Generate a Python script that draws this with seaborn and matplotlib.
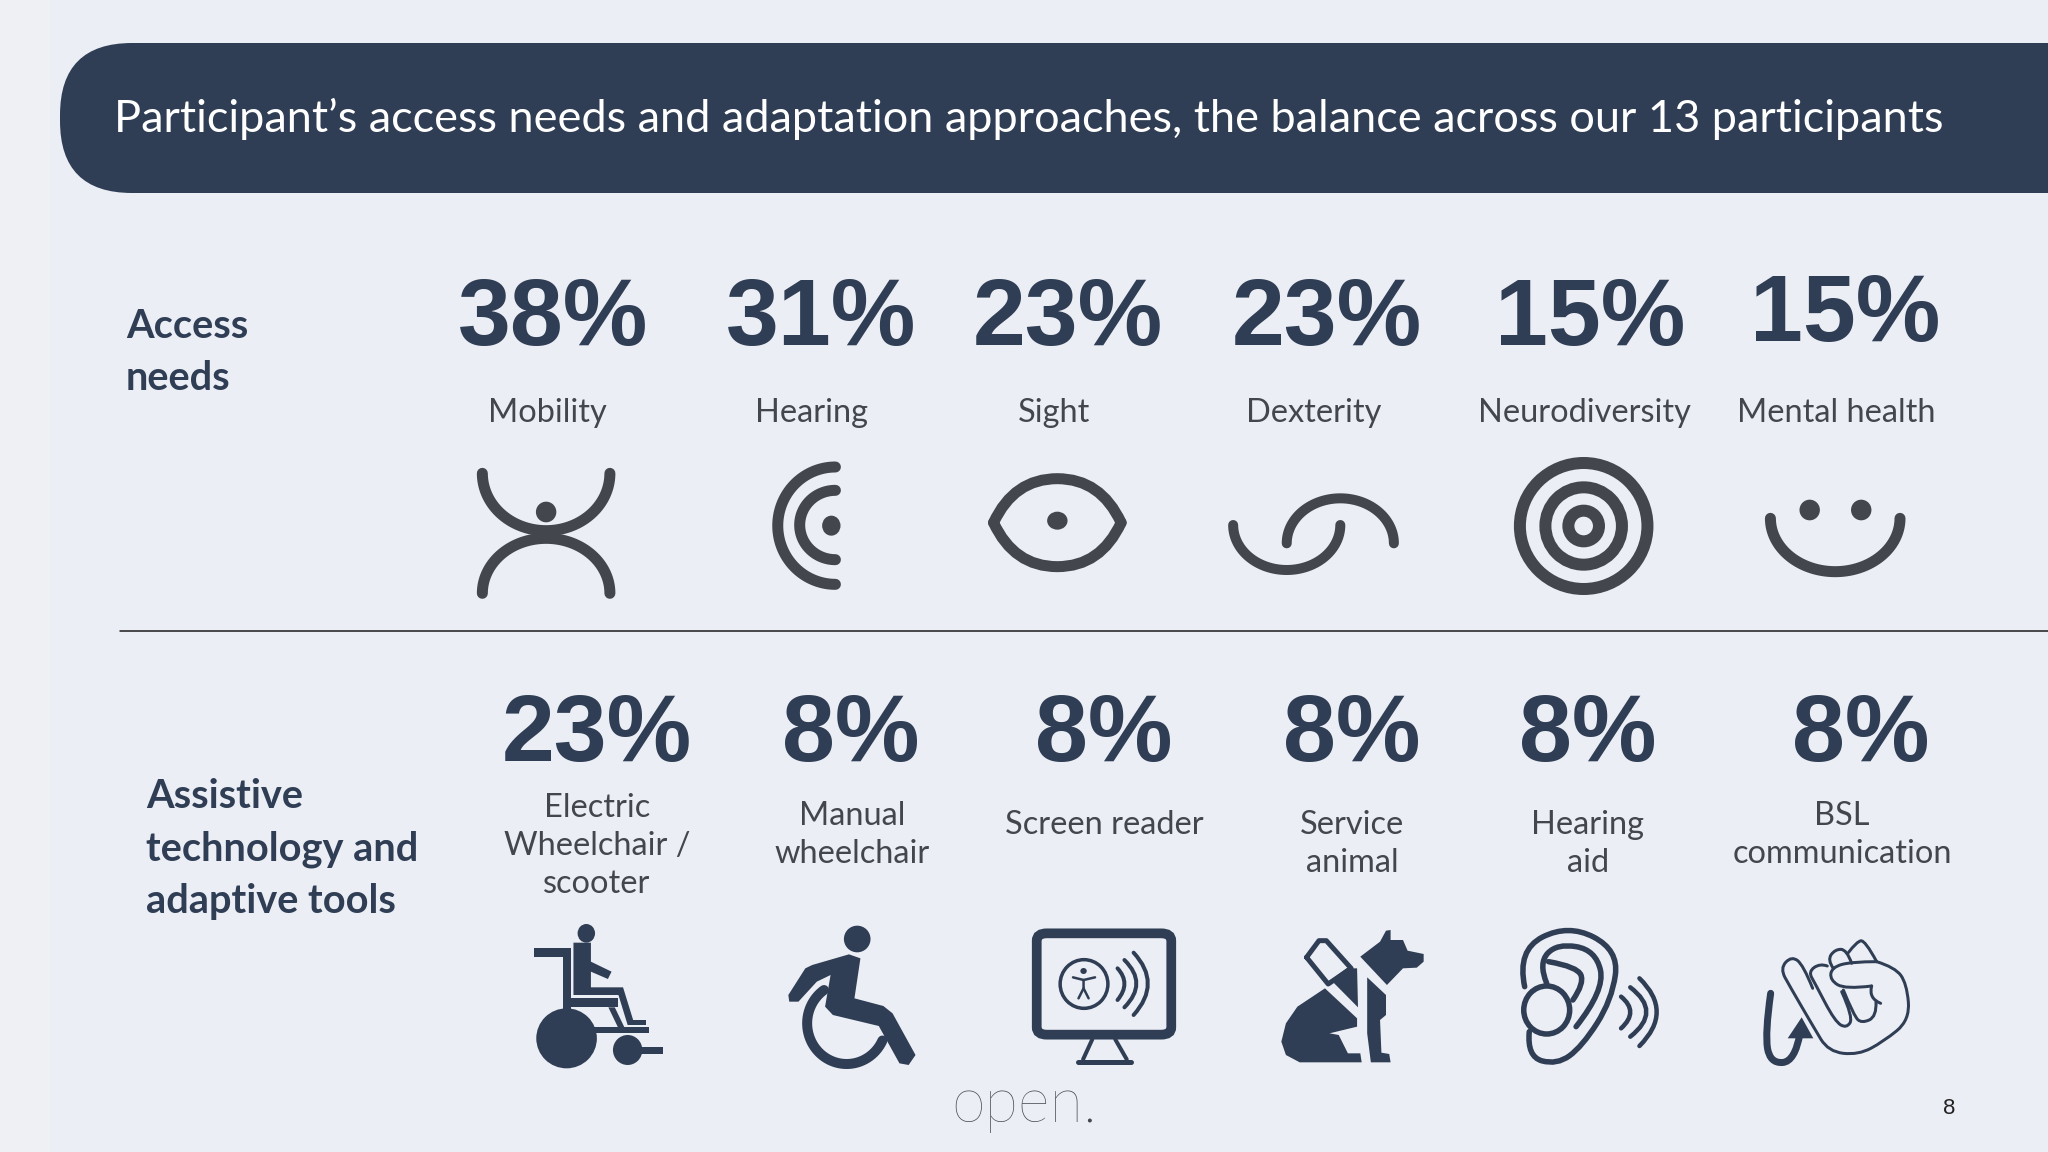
import numpy as np
import matplotlib
matplotlib.use('Agg')
import matplotlib.pyplot as plt
import seaborn as sns
from matplotlib.patches import Ellipse, FancyBboxPatch, PathPatch, Polygon, Rectangle
from matplotlib.path import Path
from matplotlib.transforms import Affine2D

title = "Participant\u2019s access needs and adaptation approaches, the balance across our 13 participants"

need_labels = ['Mobility', 'Hearing', 'Sight', 'Dexterity', 'Neurodiversity', 'Mental health']
need_pcts = [38, 31, 23, 23, 15, 15]
tool_labels = ['Electric\nWheelchair /\nscooter', 'Manual\nwheelchair', 'Screen reader',
               'Service\nanimal', 'Hearing\naid', 'BSL\ncommunication']
tool_pcts = [23, 8, 8, 8, 8, 8]

# layout, in pixels of the 2048x1152 slide
need_pct_x = [553, 821, 1068, 1327, 1590, 1845]
need_pct_y = [321, 321, 321, 321, 321, 316]
need_label_x = [547, 812, 1054, 1314, 1584, 1836]
tool_pct_x = [597, 851, 1104, 1352, 1588, 1861]
tool_label_x = [597, 852, 1104, 1352, 1588, 1842]
tool_label_y = [846, 835, 825, 844, 844, 835]

navy = '#2f3e54'
grey = '#43464d'
bg = '#eceef5'

sns.set_theme(style='white')
plt.rcParams['font.family'] = ['Lato', 'DejaVu Sans']

fig, ax = plt.subplots(figsize=(20.48, 11.52), dpi=100)
fig.subplots_adjust(0, 0, 1, 1)
fig.patch.set_facecolor(bg)
ax.set_facecolor(bg)
ax.set_xlim(0, 2048)
ax.set_ylim(1152, 0)
sns.despine(ax=ax, left=True, bottom=True)
ax.set_xticks([])
ax.set_yticks([])

ax.add_patch(Rectangle((0, 0), 50, 1152, color='#eef0f4', lw=0))
ax.add_patch(FancyBboxPatch((60, 43), 2300, 150, boxstyle='round,pad=0,rounding_size=72', color=navy, lw=0))
ax.text(114, 119, title, color='white', fontsize=32.5, va='center', ha='left')

# panel labels and divider
ax.text(126, 352, 'Access\nneeds', color=navy, fontsize=28.6, fontweight='bold', va='center', linespacing=1.5)
ax.text(146, 849, 'Assistive\ntechnology and\nadaptive tools', color=navy, fontsize=28.6, fontweight='bold', va='center', linespacing=1.5)
ax.plot([120, 2048], [631, 631], color='#1a1a1a', lw=1.1)

for x, y, p in zip(need_pct_x, need_pct_y, need_pcts):
    ax.text(x, y, f'{p}%', color=navy, fontsize=68.5, fontweight='bold', family='Liberation Sans', ha='center', va='center')
for x, p in zip(tool_pct_x, tool_pcts):
    ax.text(x, 737, f'{p}%', color=navy, fontsize=68.5, fontweight='bold', family='Liberation Sans', ha='center', va='center')
for x, lab in zip(need_label_x, need_labels):
    ax.text(x, 413, lab, color=grey, fontsize=23.4, ha='center', va='center')
for x, y, lab in zip(tool_label_x, tool_label_y, tool_labels):
    ax.text(x, y, lab, color=grey, fontsize=23.4, ha='center', va='center', linespacing=1.33)

ax.text(1024, 1105, 'open.', color='#44474f', fontsize=44, fontweight='light', ha='center', va='center')
ax.text(1949, 1109, '8', color='#222222', fontsize=16, family='Liberation Sans', ha='center', va='center')


# icons are drawn in the pixel frame of a stretched crop of the slide
def frame(x0, y0, sx, sy=3.0):
    return Affine2D().scale(1 / sx, 1 / sy).translate(x0, y0) + ax.transData


def arc(tr, cx, cy, rx, ry, t0, t1, lw, color):
    t = np.radians(np.linspace(t0, t1, 80))
    ax.plot(cx + rx * np.cos(t), cy + ry * np.sin(t), transform=tr, color=color, lw=lw * 0.72,
            solid_capstyle='round')


def blob(tr, cx, cy, w, h, color):
    ax.add_patch(Ellipse((cx, cy), w, h, transform=tr, color=color, lw=0))


def ring(tr, cx, cy, rx, ry, lw, color):
    ax.add_patch(Ellipse((cx, cy), 2 * rx, 2 * ry, transform=tr, fill=False, edgecolor=color, lw=lw * 0.72))


def poly(tr, pts, color):
    ax.add_patch(Polygon(pts, closed=True, transform=tr, color=color, lw=0))


def line(tr, pts, lw, color, closed=False):
    pts = np.array(pts)
    if closed:
        pts = np.vstack([pts, pts[:1]])
    ax.plot(pts[:, 0], pts[:, 1], transform=tr, color=color, lw=lw * 0.72,
            solid_capstyle='round', solid_joinstyle='round')


def curve(tr, pts, lw, color):
    # chained quadratics through the midpoints of the guide points
    pts = np.array(pts, float)
    mids = (pts[1:-2] + pts[2:-1]) / 2
    verts = [pts[0]]
    codes = [Path.MOVETO]
    for c, m in zip(pts[1:-2], mids):
        verts += [c, m]
        codes += [Path.CURVE3, Path.CURVE3]
    verts += [pts[-2], pts[-1]]
    codes += [Path.CURVE3, Path.CURVE3]
    ax.add_patch(PathPatch(Path(verts, codes), transform=tr, fill=False, edgecolor=color,
                           lw=lw * 0.72, capstyle='round'))


top_left = frame(440, 430, 1.96)
top_right = frame(1200, 430, 1.96)
low_left = frame(500, 900, 2.178)
low_right = frame(1240, 900, 2.178)
hand = frame(1750, 930, 3.0)

# mobility
arc(top_left, 208, 130, 125, 172, 0, 180, 11, grey)
arc(top_left, 208, 490, 125, 165, 180, 360, 11, grey)
blob(top_left, 208, 246, 40, 62, grey)
# hearing
arc(top_left, 775, 287, 113, 176, 90, 270, 11, grey)
arc(top_left, 775, 285, 70, 104, 90, 270, 11, grey)
blob(top_left, 767, 287, 36, 60, grey)
# sight
curve(top_left, [(1085, 278), (1125, 146), (1295, 146), (1335, 278)], 11, grey)
curve(top_left, [(1085, 278), (1125, 410), (1295, 410), (1335, 278)], 11, grey)
blob(top_left, 1210, 272, 40, 54, grey)
# dexterity
arc(top_right, 170, 285, 105, 135, 0, 180, 10, grey)
arc(top_right, 275, 340, 105, 135, 180, 360, 10, grey)
# neurodiversity
ring(top_right, 752, 288, 125, 189, 12, grey)
ring(top_right, 752, 288, 75, 116, 12, grey)
ring(top_right, 752, 288, 30, 46, 12, grey)
# mental health
blob(top_right, 1195, 240, 40, 62, grey)
blob(top_right, 1296, 240, 40, 62, grey)
arc(top_right, 1245, 265, 127, 160, 0, 180, 11, grey)

# electric wheelchair
blob(low_left, 188, 100, 38, 56, navy)
poly(low_left, [(160, 128), (198, 128), (198, 185), (243, 215), (235, 237), (198, 215), (198, 262), (268, 262),
                (290, 360), (318, 360), (318, 375), (278, 375), (258, 285), (160, 285)], navy)
poly(low_left, [(73, 143), (155, 143), (155, 330), (137, 330), (137, 170), (73, 170)], navy)
poly(low_left, [(155, 295), (258, 295), (258, 322), (155, 322)], navy)
blob(low_left, 145, 415, 132, 180, navy)
poly(low_left, [(200, 382), (325, 382), (325, 400), (200, 400)], navy)
poly(low_left, [(236, 322), (250, 322), (272, 385), (258, 385)], navy)
blob(low_left, 278, 450, 64, 90, navy)
poly(low_left, [(300, 442), (355, 442), (355, 463), (300, 463)], navy)
# manual wheelchair
blob(low_left, 778, 117, 58, 80, navy)
poly(low_left, [(680, 195), (760, 163), (785, 175), (772, 295), (835, 318), (855, 340), (905, 465), (890, 495),
                (870, 490), (825, 378), (725, 345), (708, 320), (720, 225), (690, 245), (650, 305), (630, 305),
                (628, 285), (665, 205)], navy)
arc(low_left, 755, 370, 86, 122, 235, 25, 10, navy)
# screen reader
ax.add_patch(FancyBboxPatch((1169, 100), 293, 304, boxstyle='round,pad=0,rounding_size=22', transform=low_left,
                            fill=False, edgecolor=navy, lw=7))
line(low_left, [(1290, 418), (1270, 478)], 4, navy)
line(low_left, [(1340, 418), (1365, 478)], 4, navy)
line(low_left, [(1258, 486), (1375, 486)], 5, navy)
ring(low_left, 1272, 252, 52, 73, 3.5, navy)
blob(low_left, 1271, 213, 14, 18, navy)
line(low_left, [(1248, 232), (1271, 240), (1296, 232)], 2.5, navy)
line(low_left, [(1271, 240), (1271, 265), (1260, 295)], 2.5, navy)
line(low_left, [(1271, 265), (1282, 295)], 2.5, navy)
curve(low_left, [(1345, 205), (1375, 250), (1345, 300)], 4, navy)
curve(low_left, [(1360, 180), (1412, 250), (1360, 322)], 4, navy)
curve(low_left, [(1380, 158), (1442, 250), (1380, 345)], 4, navy)
# service animal
poly(low_right, [(262, 170), (305, 125), (318, 92), (328, 90), (328, 120), (355, 120), (365, 152), (400, 162),
                 (400, 185), (385, 203), (355, 205), (320, 255)], navy)
line(low_right, [(145, 172), (172, 122), (188, 122), (242, 205), (192, 252)], 5, navy, closed=True)
poly(low_right, [(198, 240), (232, 205), (255, 205), (257, 322)], navy)
poly(low_right, [(185, 265), (255, 355), (255, 380), (195, 400), (215, 405), (235, 460), (262, 460), (265, 487),
                 (130, 487), (100, 465), (90, 425), (100, 370), (125, 320)], navy)
poly(low_right, [(277, 232), (318, 285), (318, 345), (305, 360), (308, 458), (325, 462), (328, 487), (285, 487),
                 (277, 400)], navy)
# hearing aid
curve(low_right, [(620, 260), (603, 150), (715, 72), (825, 150), (810, 300), (745, 440), (690, 495), (625, 470),
                  (630, 395)], 5.5, navy)
curve(low_right, [(732, 380), (795, 270), (775, 150), (690, 130), (650, 190), (668, 250)], 5.5, navy)
curve(low_right, [(672, 185), (735, 200), (750, 250), (725, 300)], 5.5, navy)
ring(low_right, 668, 330, 50, 72, 5.5, navy)
curve(low_right, [(830, 290), (870, 335), (830, 385)], 4.5, navy)
curve(low_right, [(850, 262), (920, 335), (850, 410)], 4.5, navy)
curve(low_right, [(870, 235), (945, 335), (870, 438)], 4.5, navy)
# bsl communication
curve(hand, [(62, 190), (45, 310), (60, 400), (135, 395), (150, 310)], 7, navy)
poly(hand, [(155, 262), (190, 325), (113, 325)], navy)
curve(hand, [(188, 175), (160, 105), (125, 78), (90, 115), (120, 170), (190, 290), (235, 365), (325, 375),
             (400, 335), (480, 270), (470, 160), (435, 112), (380, 95)], 3, navy)
curve(hand, [(380, 95), (345, 30), (320, 35), (295, 68)], 3, navy)
curve(hand, [(305, 100), (290, 58), (255, 58), (232, 90), (250, 115)], 3, navy)
curve(hand, [(232, 108), (210, 100), (175, 125), (195, 160), (255, 275), (290, 295), (310, 262), (275, 185)], 3, navy)
curve(hand, [(380, 95), (305, 95), (245, 112), (240, 150), (285, 178), (365, 168)], 3, navy)
curve(hand, [(365, 168), (355, 205), (392, 220)], 3, navy)
curve(hand, [(378, 215), (380, 260), (335, 280), (312, 258), (280, 180)], 3, navy)

fig.savefig('out.png', dpi=100, facecolor=bg)
